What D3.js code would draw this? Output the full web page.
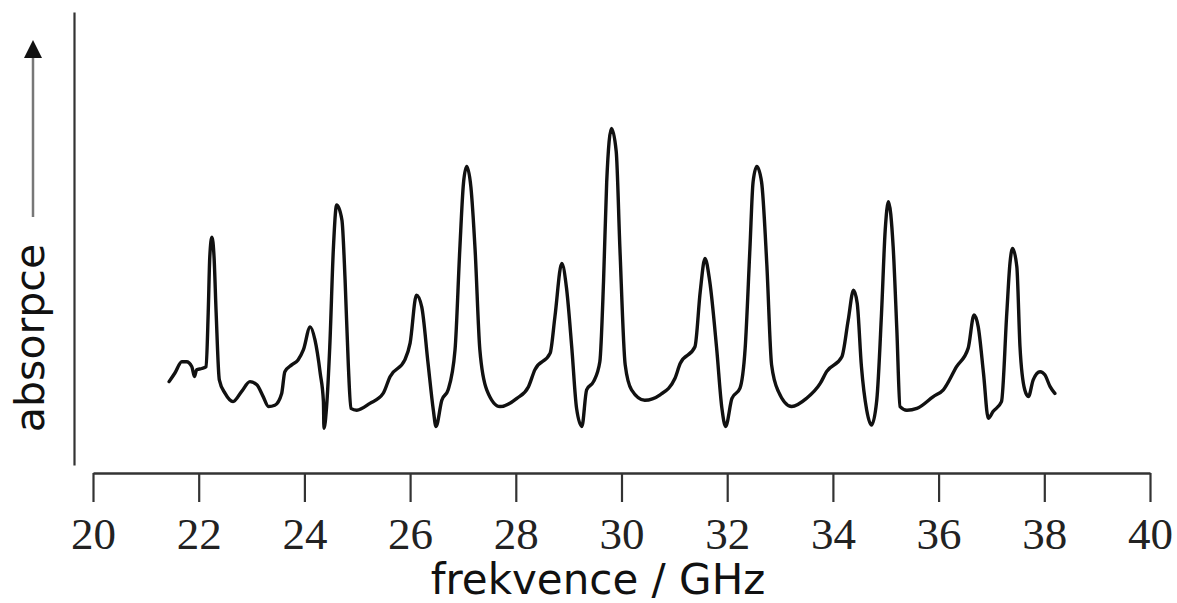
<!DOCTYPE html>
<html>
<head>
<meta charset="utf-8">
<script src="https://cdn.jsdelivr.net/npm/d3@7"></script>
<style>
  html, body { margin: 0; padding: 0; background: #fff; }
  svg { display: block; }
</style>
</head>
<body>
<svg id="chart" width="1177" height="603"></svg>
<script>
// Microwave absorption spectrum (frequency in GHz, absorption in arbitrary units)
const frequency = [
  21.44, 21.55, 21.68, 21.77, 21.87, 21.92, 21.96, 22.06, 22.14, 22.18,
  22.21, 22.25, 22.29, 22.33, 22.39, 22.50, 22.65, 22.81, 22.97, 23.10,
  23.22, 23.32, 23.44, 23.57, 23.63, 23.76, 23.88, 23.98, 24.11, 24.20,
  24.30, 24.36, 24.37, 24.42, 24.48, 24.55, 24.61, 24.71, 24.77, 24.83,
  24.88, 24.99, 25.24, 25.49, 25.62, 25.90, 26.00, 26.12, 26.22, 26.34,
  26.44, 26.49, 26.60, 26.72, 26.85, 26.94, 27.01, 27.07, 27.15, 27.23,
  27.32, 27.45, 27.70, 28.02, 28.24, 28.36, 28.65, 28.74, 28.87, 28.96,
  29.06, 29.15, 29.25, 29.34, 29.47, 29.59, 29.66, 29.72, 29.81, 29.90,
  29.97, 30.07, 30.19, 30.44, 30.73, 31.01, 31.11, 31.39, 31.49, 31.58,
  31.67, 31.80, 31.90, 31.97, 32.09, 32.24, 32.34, 32.43, 32.49, 32.56,
  32.65, 32.75, 32.84, 32.97, 33.22, 33.50, 33.76, 33.88, 34.17, 34.29,
  34.39, 34.46, 34.54, 34.64, 34.73, 34.83, 34.92, 34.99, 35.05, 35.14,
  35.21, 35.27, 35.40, 35.59, 35.90, 36.09, 36.34, 36.56, 36.67, 36.75,
  36.85, 36.94, 37.03, 37.19, 37.29, 37.35, 37.40, 37.48, 37.54, 37.63,
  37.70, 37.79, 37.92, 38.01, 38.11, 38.20
];
const absorption = [
  18.4, 20.3, 22.8, 22.8, 21.7, 19.5, 21.0, 21.3, 21.7, 33.6,
  46.0, 50.3, 46.0, 33.6, 18.8, 15.8, 14.0, 16.2, 18.4, 17.7,
  15.1, 12.9, 13.2, 15.8, 20.6, 22.1, 23.2, 25.4, 30.5, 27.6,
  20.2, 14.0, 8.1, 12.9, 26.1, 48.2, 57.4, 54.1, 40.8, 22.4,
  12.5, 12.1, 13.6, 15.8, 19.5, 23.2, 26.9, 37.5, 34.9, 22.4,
  12.1, 8.5, 14.3, 16.6, 25.4, 47.5, 62.2, 65.9, 61.4, 47.5,
  25.4, 16.6, 12.9, 14.7, 17.3, 21.0, 24.7, 32.7, 44.5, 39.0,
  25.8, 12.5, 8.5, 16.6, 18.4, 22.8, 40.5, 62.5, 74.3, 69.2,
  47.8, 22.1, 16.6, 14.3, 15.5, 19.1, 22.4, 26.1, 38.3, 45.6,
  40.5, 25.8, 12.5, 8.5, 14.7, 16.9, 25.8, 47.8, 62.5, 65.9,
  62.5, 44.2, 22.1, 16.2, 12.9, 14.7, 18.0, 20.6, 23.9, 32.0,
  38.6, 35.7, 21.7, 12.1, 8.8, 14.3, 33.5, 51.9, 58.1, 48.2,
  29.8, 12.9, 12.1, 12.5, 15.1, 16.6, 21.7, 25.8, 33.1, 30.5,
  20.2, 10.3, 11.8, 14.0, 33.5, 44.5, 47.8, 43.8, 26.1, 16.6,
  15.1, 18.8, 20.6, 19.9, 17.3, 15.8
];
const xTicks = [20, 22, 24, 26, 28, 30, 32, 34, 36, 38, 40];
const xDomain = [20, 40];
const yDomain = [0, 100];
const xLabel = "frekvence / GHz";
const yLabel = "absorpce";

const svg = d3.select("#chart");

const x = d3.scaleLinear().domain(xDomain).range([93, 1150]);
const y = d3.scaleLinear().domain(yDomain).range([465, 12]);

// Frequency axis
const xAxis = svg.append("g")
  .attr("transform", "translate(0,473)")
  .call(d3.axisBottom(x).tickValues(xTicks).tickSize(29).tickSizeOuter(0).tickFormat(d3.format("d")));
xAxis.select(".domain").attr("stroke", "#333").attr("stroke-width", 2.5);
xAxis.selectAll(".tick line").attr("stroke", "#333").attr("stroke-width", 2.2);
xAxis.selectAll(".tick text")
  .attr("y", 76).attr("dy", 0)
  .attr("fill", "#222")
  .style("font-family", "'Liberation Serif', 'Times New Roman', serif")
  .style("font-size", "45px");

// Absorption axis: bare vertical line
const yAxis = svg.append("g")
  .attr("transform", "translate(74,0)")
  .call(d3.axisLeft(y).ticks(0).tickSizeOuter(0));
yAxis.select(".domain").attr("stroke", "#333").attr("stroke-width", 2.2);

// Axis titles
svg.append("text")
  .attr("x", 598).attr("y", 594)
  .attr("text-anchor", "middle")
  .attr("fill", "#111")
  .style("font-family", "'DejaVu Sans', Verdana, sans-serif")
  .style("font-size", "42px")
  .text(xLabel);

svg.append("text")
  .attr("transform", "translate(44,338) rotate(-90)")
  .attr("text-anchor", "middle")
  .attr("fill", "#111")
  .style("font-family", "'DejaVu Sans', Verdana, sans-serif")
  .style("font-size", "41px")
  .text(yLabel);

// Arrow pointing up alongside the absorption title
svg.append("line")
  .attr("x1", 33).attr("y1", 217).attr("x2", 33).attr("y2", 56)
  .attr("stroke", "#777").attr("stroke-width", 2.5);
svg.append("path")
  .attr("d", d3.line()([[33, 40], [24, 58], [42, 58]]) + "Z")
  .attr("fill", "#111");

// Spectrum trace
const points = frequency.map((f, i) => [f, absorption[i]]);
const line = d3.line()
  .x(d => x(d[0]))
  .y(d => y(d[1]))
  .curve(d3.curveMonotoneX);

svg.append("path")
  .datum(points)
  .attr("d", line)
  .attr("fill", "none")
  .attr("stroke", "#111")
  .attr("stroke-width", 3.4)
  .attr("stroke-linejoin", "round")
  .attr("stroke-linecap", "round");
</script>
</body>
</html>
